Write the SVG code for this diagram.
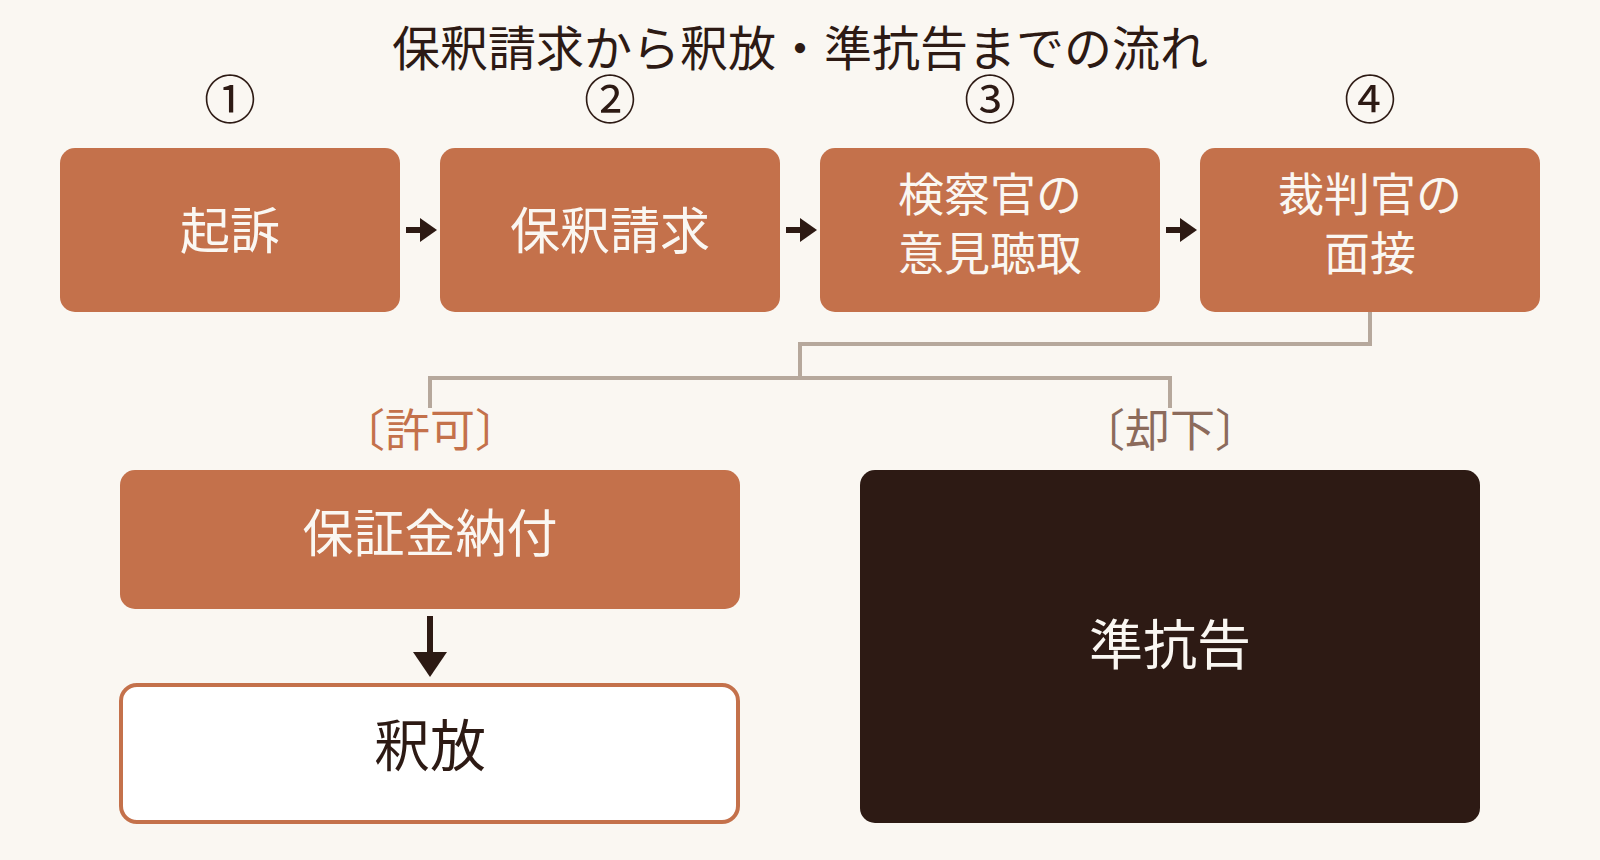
<svg xmlns="http://www.w3.org/2000/svg" width="1600" height="860" viewBox="0 0 1600 860">
<style>
text{font-family:"Noto Sans CJK JP","Noto Sans CJK SC",sans-serif;text-anchor:middle}
.title{font-size:48px;fill:#2D1A14}
.num{font-size:52px;fill:#2D1A14}
.box{fill:#C4714B}
.bt{fill:#FAF7F2;font-size:50px}
.bt2{fill:#FAF7F2;font-size:46px}
.conn{fill:none;stroke:#B6A89C;stroke-width:4}
.arr{stroke:#2D1A14;stroke-width:6;fill:none}
.lbl{font-size:45px}
</style>
<defs>
<marker id="ah" markerUnits="userSpaceOnUse" markerWidth="17" markerHeight="24" viewBox="0 0 17 24" refX="1" refY="12" orient="auto">
<path d="M0,0 L17,12 L0,24 z" fill="#2D1A14"/>
</marker>
<marker id="ahd" markerUnits="userSpaceOnUse" markerWidth="25" markerHeight="34" viewBox="0 0 25 34" refX="1" refY="17" orient="auto">
<path d="M0,0 L25,17 L0,34 z" fill="#2D1A14"/>
</marker>
</defs>
<rect width="1600" height="860" fill="#FAF7F2"/>
<text class="title" x="800" y="66">保釈請求から釈放・準抗告までの流れ</text>
<g id="nums">
<text class="num" x="230" y="119">①</text>
<text class="num" x="610" y="119">②</text>
<text class="num" x="990" y="119">③</text>
<text class="num" x="1370" y="119">④</text>
</g>
<g id="connectors">
<line class="arr" x1="406" y1="230" x2="421" y2="230" marker-end="url(#ah)"/>
<line class="arr" x1="786" y1="230" x2="801" y2="230" marker-end="url(#ah)"/>
<line class="arr" x1="1166" y1="230" x2="1181" y2="230" marker-end="url(#ah)"/>
<path class="conn" d="M1370,312 V344 H800 V378"/>
<path class="conn" d="M430,408 V378 H1170 V408"/>
<line class="arr" x1="430" y1="616" x2="430" y2="653" marker-end="url(#ahd)"/>
</g>
<g id="n1"><rect class="box" x="60" y="148" width="340" height="164" rx="15"/><text class="bt" x="230" y="249">起訴</text></g>
<g id="n2"><rect class="box" x="440" y="148" width="340" height="164" rx="15"/><text class="bt" x="610" y="249">保釈請求</text></g>
<g id="n3"><rect class="box" x="820" y="148" width="340" height="164" rx="15"/><text class="bt2" x="990" y="211">検察官の</text><text class="bt2" x="990" y="270">意見聴取</text></g>
<g id="n4"><rect class="box" x="1200" y="148" width="340" height="164" rx="15"/><text class="bt2" x="1370" y="211">裁判官の</text><text class="bt2" x="1370" y="270">面接</text></g>
<g id="l1"><text class="lbl" x="430" y="447" fill="#C4714B">〔許可〕</text></g>
<g id="l2"><text class="lbl" x="1170" y="447" fill="#8C6B5C">〔却下〕</text></g>
<g id="n5"><rect class="box" x="120" y="470" width="620" height="139" rx="15"/><text class="bt" x="430" y="552" style="font-size:51px">保証金納付</text></g>
<g id="n6"><rect x="121" y="685" width="617" height="137" rx="16" fill="#FFFFFF" stroke="#C4714B" stroke-width="4"/><text x="430" y="766" style="font-size:56px;fill:#2D1A14">釈放</text></g>
<g id="n7"><rect x="860" y="470" width="620" height="353" rx="15" fill="#2D1A14"/><text x="1170" y="665" style="font-size:54px;fill:#FAF7F2">準抗告</text></g>
</svg>
